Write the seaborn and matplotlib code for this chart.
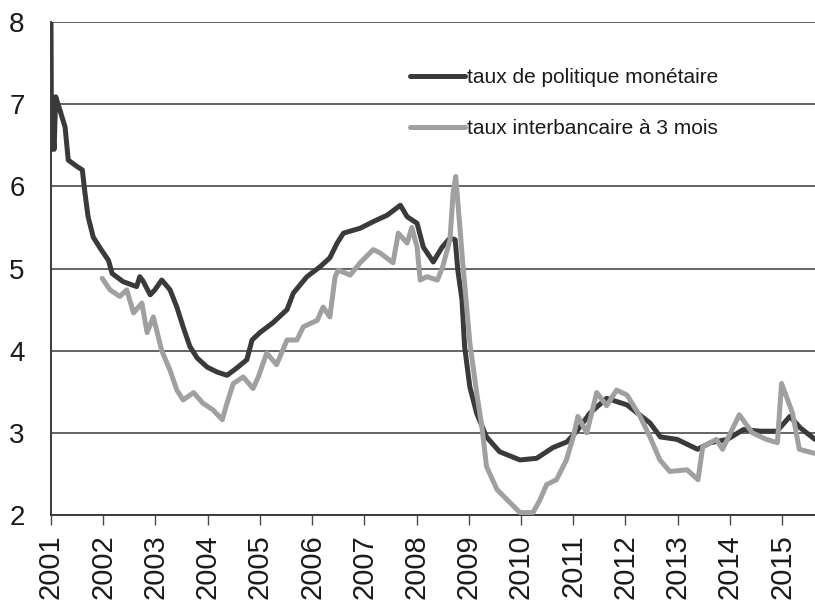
import numpy as np
import pandas as pd
import matplotlib
matplotlib.use("Agg")
import matplotlib.pyplot as plt
import seaborn as sns

# ---- data ----
policy_years = [2001.00, 2001.01, 2001.04, 2001.06, 2001.09, 2001.17, 2001.27, 2001.33, 2001.50, 2001.60,
                2001.65, 2001.71, 2001.81, 2001.97, 2002.10, 2002.17, 2002.38, 2002.64, 2002.70, 2002.76,
                2002.90, 2002.99, 2003.12, 2003.28, 2003.41, 2003.53, 2003.66, 2003.80, 2003.99, 2004.18,
                2004.37, 2004.56, 2004.75, 2004.85, 2005.00, 2005.25, 2005.52, 2005.64, 2005.90, 2006.15,
                2006.34, 2006.48, 2006.60, 2006.92, 2007.17, 2007.44, 2007.69, 2007.82, 2008.01, 2008.13,
                2008.32, 2008.49, 2008.64, 2008.74, 2008.79, 2008.87, 2008.92, 2009.02, 2009.15, 2009.34,
                2009.59, 2009.98, 2010.30, 2010.61, 2010.88, 2011.08, 2011.32, 2011.64, 2012.03, 2012.47,
                2012.67, 2012.99, 2013.38, 2013.63, 2013.95, 2014.26, 2014.58, 2014.90, 2015.15, 2015.35,
                2015.63]
policy_rate = [8.00, 6.45, 6.60, 6.45, 7.09, 6.93, 6.72, 6.32, 6.24, 6.20,
               5.92, 5.63, 5.38, 5.22, 5.10, 4.94, 4.84, 4.78, 4.90, 4.85,
               4.68, 4.74, 4.86, 4.74, 4.53, 4.29, 4.05, 3.91, 3.80, 3.74,
               3.70, 3.79, 3.89, 4.13, 4.22, 4.34, 4.50, 4.70, 4.90, 5.02,
               5.13, 5.31, 5.43, 5.49, 5.57, 5.65, 5.77, 5.63, 5.55, 5.26,
               5.08, 5.26, 5.37, 5.35, 4.98, 4.62, 4.05, 3.56, 3.24, 2.95,
               2.77, 2.67, 2.69, 2.82, 2.89, 3.03, 3.24, 3.42, 3.34, 3.12,
               2.95, 2.92, 2.80, 2.88, 2.92, 3.04, 3.02, 3.02, 3.20, 3.06,
               2.92]

interbank_years = [2001.98, 2002.13, 2002.32, 2002.45, 2002.58, 2002.74, 2002.84, 2002.96, 2003.12, 2003.28,
                   2003.41, 2003.53, 2003.73, 2003.91, 2004.10, 2004.28, 2004.37, 2004.49, 2004.68, 2004.87,
                   2004.97, 2005.13, 2005.32, 2005.52, 2005.71, 2005.83, 2006.10, 2006.21, 2006.34, 2006.44,
                   2006.50, 2006.73, 2006.92, 2007.17, 2007.30, 2007.55, 2007.65, 2007.82, 2007.91, 2008.01,
                   2008.07, 2008.20, 2008.40, 2008.50, 2008.64, 2008.70, 2008.75, 2008.83, 2008.88, 2009.02,
                   2009.15, 2009.25, 2009.34, 2009.54, 2009.79, 2009.98, 2010.23, 2010.36, 2010.49, 2010.68,
                   2010.87, 2011.00, 2011.09, 2011.26, 2011.45, 2011.64, 2011.83, 2012.03, 2012.28, 2012.47,
                   2012.66, 2012.85, 2013.18, 2013.39, 2013.48, 2013.74, 2013.86, 2014.18, 2014.43, 2014.70,
                   2014.91, 2014.99, 2015.20, 2015.33, 2015.62]
interbank_rate = [4.88, 4.74, 4.66, 4.74, 4.46, 4.58, 4.22, 4.41, 4.00, 3.76,
                  3.52, 3.40, 3.49, 3.36, 3.28, 3.16, 3.36, 3.60, 3.68, 3.54,
                  3.68, 3.97, 3.83, 4.13, 4.13, 4.29, 4.37, 4.53, 4.41, 4.90,
                  4.98, 4.92, 5.07, 5.23, 5.19, 5.07, 5.43, 5.31, 5.50, 5.26,
                  4.86, 4.90, 4.86, 5.02, 5.35, 5.92, 6.12, 5.50, 5.10, 4.10,
                  3.49, 3.08, 2.59, 2.31, 2.15, 2.03, 2.03, 2.18, 2.37, 2.43,
                  2.67, 2.95, 3.20, 3.00, 3.49, 3.33, 3.52, 3.46, 3.20, 2.95,
                  2.67, 2.53, 2.55, 2.43, 2.83, 2.92, 2.80, 3.22, 3.00, 2.92,
                  2.88, 3.60, 3.24, 2.80, 2.75]

series_labels = ["taux de politique monétaire", "taux interbancaire à 3 mois"]
year_ticks = list(range(2001, 2016))
value_ticks = [2, 3, 4, 5, 6, 7, 8]

sns.set_theme(style="white")
plt.rcParams['font.family'] = ['Liberation Sans', 'DejaVu Sans']

fig = plt.figure(figsize=(8.15, 6.10), dpi=100)
ax = fig.add_axes([51/815, 1 - 515/610, 1 - 51/815, (515 - 22)/610])

df_policy = pd.DataFrame({"year": policy_years, "rate": policy_rate})
df_inter = pd.DataFrame({"year": interbank_years, "rate": interbank_rate})

sns.lineplot(data=df_policy, x="year", y="rate", ax=ax, color="#3a3a3a",
             linewidth=3.6, label=series_labels[0], zorder=3)
sns.lineplot(data=df_inter, x="year", y="rate", ax=ax, color="#a0a0a0",
             linewidth=3.6, label=series_labels[1], zorder=4)

ax.set_xlim(2001, 2015.63)
ax.set_ylim(2, 8)
ax.set_xticks(year_ticks)
ax.set_xticklabels([str(y) for y in year_ticks], rotation=90, fontsize=21)
ax.set_yticks(value_ticks)
ax.set_yticklabels([str(v) for v in value_ticks], fontsize=20)
ax.set_xlabel("")
ax.set_ylabel("")

ax.grid(axis="y", color="#4a4a4a", linewidth=1.2)
ax.grid(axis="x", visible=False)
ax.set_axisbelow(True)
for s in ["top", "right"]:
    ax.spines[s].set_visible(False)
ax.spines["left"].set_color("#3a3a3a")
ax.spines["left"].set_linewidth(1.4)
ax.spines["bottom"].set_color("#3a3a3a")
ax.spines["bottom"].set_linewidth(1.4)
ax.tick_params(axis="y", direction="out", length=8, width=1.2, color="#4a4a4a",
               pad=11, labelcolor="#1a1a1a")
ax.tick_params(axis="x", direction="out", length=7, width=1.0, color="#4a4a4a",
               pad=7, labelcolor="#1a1a1a", bottom=True)

leg = ax.legend(loc="upper left", bbox_to_anchor=((410 - 51)/764, (515 - 68)/493),
                frameon=False, fontsize=15, handlelength=2.65, handletextpad=0.1,
                labelspacing=1.55, borderaxespad=0, borderpad=0)
for t in leg.get_texts():
    t.set_color("#1a1a1a")

fig.savefig("out.png", dpi=100)
